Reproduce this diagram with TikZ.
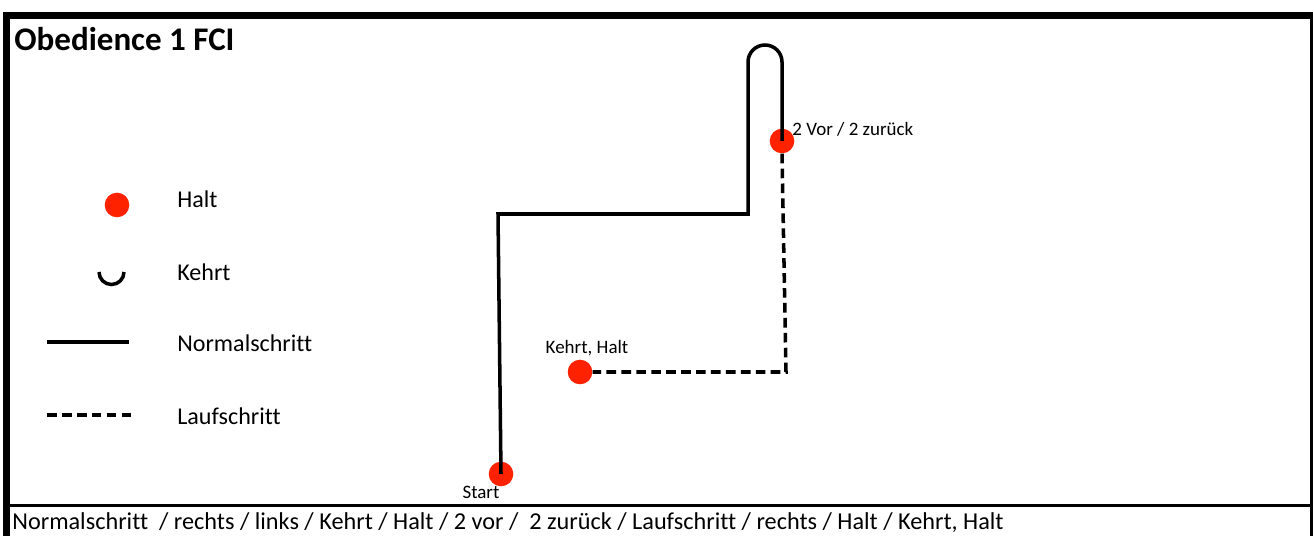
\documentclass[tikz,border=0pt]{standalone}
\usepackage{fontspec}
\setmainfont[Ligatures=NoCommon]{Carlito}
\definecolor{haltred}{RGB}{255,34,0}
\begin{document}
\begin{tikzpicture}[x=0.02cm,y=-0.02cm,
  path/.style={line width=2pt},
  runpath/.style={line width=2pt,dash pattern=on 5.5pt off 3pt},
  halt/.style={circle,fill=haltred,minimum size=14pt,inner sep=0pt},
  legtext/.style={anchor=west,font=\fontsize{13.7}{15}\selectfont,inner sep=0pt},
  lbl/.style={font=\fontsize{10.8}{12}\selectfont,inner sep=0pt}]
\useasboundingbox (0,0) rectangle (1314,536);
% frame
\draw[line width=4pt] (3,15.5) -- (1313,15.5);
\draw[line width=4pt] (6.5,12) -- (6.5,536);
\draw[line width=1.7pt] (1311.5,12) -- (1311.5,536);
\draw[line width=1.7pt] (5,505.5) -- (1313,505.5);
% title
\node[anchor=west,inner sep=0pt,font=\bfseries\fontsize{18.8}{22}\selectfont] (title) at (14,39) {Obedience 1 FCI};
% legend
\node[halt] (lhalt) at (117,205) {};
\node[legtext] (thalt) at (177,199) {Halt};
\coordinate (ku1) at (99,272);
\draw[path] (ku1) arc[start angle=180,end angle=0,radius=12.5];
\node[legtext] (tkehrt) at (177,272) {Kehrt};
\coordinate (ln1) at (47,342);
\coordinate (ln2) at (129,342);
\draw[path] (ln1) -- (ln2);
\node[legtext] (tnormal) at (177,343) {Normalschritt};
\coordinate (ll1) at (47,415);
\coordinate (ll2) at (132,415);
\draw[runpath] (ll1) -- (ll2);
\node[legtext] (tlauf) at (177,416) {Laufschritt};
% course
\node[halt] (start) at (501,474) {};
\node[halt] (vor) at (782,141) {};
\node[halt] (kh) at (580,372) {};
\coordinate (c1) at (498,214);
\coordinate (c2) at (748,214);
\coordinate (c3) at (748,62);
\coordinate (c4) at (786,372);
\draw[path,line join=miter] (start.center) -- (c1) -- (c2) -- (c3) arc[start angle=180,end angle=360,radius=17] -- (vor.center);
\draw[runpath] (vor.south) -- (c4) -- (kh.east);
\node[lbl,anchor=west] (tvor) at (792,129) {2 Vor / 2 zurück};
\node[lbl] (tkh) at (587,348) {Kehrt, Halt};
\node[lbl] (tstart) at (481,492) {Start};
% bottom text
\node[anchor=west,inner sep=0pt,font=\fontsize{13.8}{15}\selectfont] (seq) at (12,523) {Normalschritt\ \ / rechts / links / Kehrt / Halt / 2 vor /\ \ 2 zurück / Laufschritt / rechts / Halt / Kehrt, Halt};
\end{tikzpicture}
\end{document}
